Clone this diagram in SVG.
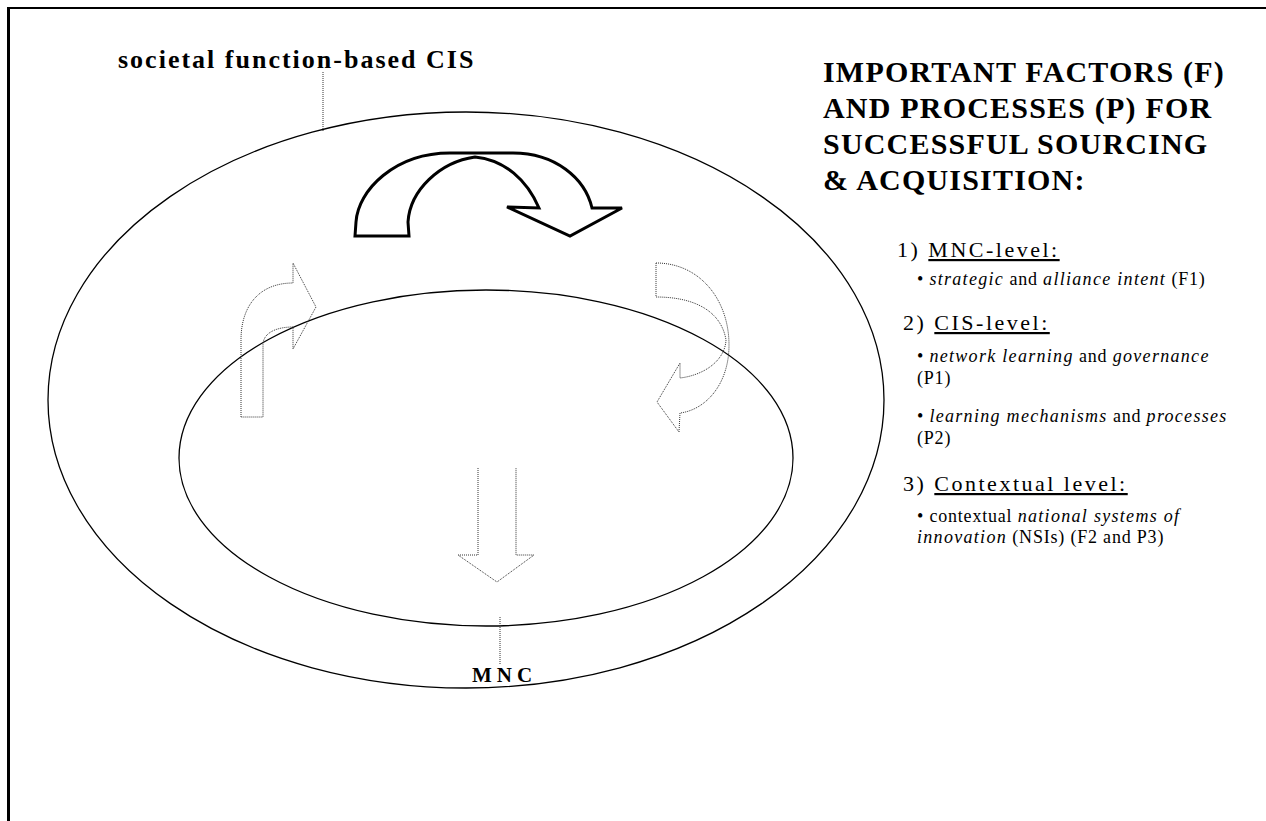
<svg xmlns="http://www.w3.org/2000/svg" width="1266" height="821" viewBox="0 0 1266 821">
<style>
.ell{fill:none;stroke:#000;stroke-width:1.3}
.dot{fill:none;stroke:#333;stroke-width:1;stroke-dasharray:1 1}
.lead{fill:none;stroke:#333;stroke-width:1;stroke-dasharray:1 1}
.bold{font-family:"Liberation Serif",serif;font-weight:bold;fill:#000}
.h{font-family:"Liberation Serif",serif;font-size:22px;letter-spacing:2.5px;fill:#000}
.b{font-family:"Liberation Serif",serif;font-size:18px;letter-spacing:0.8px;fill:#000}
.i{font-style:italic;letter-spacing:1.3px}
</style>
<rect width="1266" height="821" fill="#fff"/>
<g id="frame">
<line x1="8" y1="8" x2="1266" y2="8" stroke="#000" stroke-width="2"/>
<line x1="8.5" y1="7" x2="8.5" y2="821" stroke="#000" stroke-width="3"/>
</g>
<g id="outer-cis">
<ellipse class="ell" cx="466" cy="400" rx="418" ry="288"/>
<text class="bold" x="118" y="68" font-size="26" letter-spacing="2">societal function-based CIS</text>
</g>
<g id="inner-mnc">
<ellipse class="ell" cx="486" cy="458" rx="307" ry="168"/>
<text class="bold" x="472" y="682" font-size="21" letter-spacing="5">MNC</text>
</g>
<g id="connectors">
<line class="lead" x1="323" y1="72" x2="323" y2="132"/>
<line class="lead" x1="500" y1="617" x2="500" y2="665"/>
<path id="big-arrow" d="M355,236 L356,222 C358,190 395,153 450,153 L513,153 C555,153 585,178 592,208 L622,208 L570,236 L507,207 L539,208 C527,180 505,160 475,157 C440,162 410,190 408,222 L409,236 Z" fill="#fff" stroke="#000" stroke-width="3" stroke-linejoin="miter"/>
<path id="left-arrow" class="dot" d="M241,417 L241,340 C241,305 260,283 293,283 L293,263 L316,307 L293,349 L293,327 C276,327 263,333 263,345 L263,417 Z"/>
<path id="right-arrow" class="dot" d="M656,263 C700,263 729,300 729,345 C729,385 705,410 680,413 L679,432 L657,402 L680,363 L680,378 C705,375 725,360 726,340 C722,315 700,297 656,297 Z"/>
<path id="down-arrow" class="dot" d="M478,468 L478,555 L458,555 L497,582 L534,555 L516,555 L516,468"/>
</g>
<g id="legend">
<text class="bold" font-size="30" letter-spacing="1.2">
<tspan x="823" y="82">IMPORTANT FACTORS (F)</tspan>
<tspan x="823" y="118">AND PROCESSES (P) FOR</tspan>
<tspan x="823" y="154">SUCCESSFUL SOURCING</tspan>
<tspan x="823" y="190">&amp; ACQUISITION:</tspan>
</text>
<text class="h" x="897" y="257">1) <tspan text-decoration="underline">MNC-level:</tspan></text>
<text class="b" x="917" y="285">• <tspan class="i">strategic</tspan> and <tspan class="i">alliance intent</tspan> (F1)</text>
<text class="h" x="903" y="330">2) <tspan text-decoration="underline">CIS-level:</tspan></text>
<text class="b" x="917" y="362">• <tspan class="i">network learning</tspan> and <tspan class="i">governance</tspan></text>
<text class="b" x="917" y="384">(P1)</text>
<text class="b" x="917" y="422">• <tspan class="i">learning mechanisms</tspan> and <tspan class="i">processes</tspan></text>
<text class="b" x="917" y="444">(P2)</text>
<text class="h" x="903" y="491">3) <tspan text-decoration="underline">Contextual level:</tspan></text>
<text class="b" x="917" y="522">• contextual <tspan class="i">national systems of</tspan></text>
<text class="b" x="917" y="543"><tspan class="i">innovation</tspan> (NSIs) (F2 and P3)</text>
</g>
</svg>
